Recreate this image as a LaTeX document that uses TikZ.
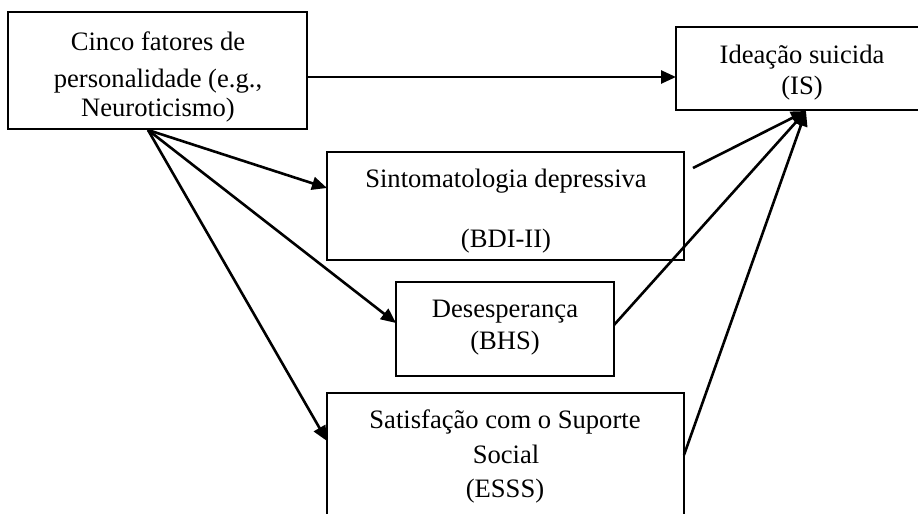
\documentclass[tikz,border=0pt]{standalone}
\usepackage{fontspec}
\setmainfont{Liberation Serif}
\usetikzlibrary{arrows.meta,fit}
\tikzset{
  box/.style={draw=black, line width=1pt, inner sep=0pt, rectangle},
  lbl/.style={anchor=base, inner sep=0pt, font=\fontsize{13.3}{16}\selectfont},
  arr/.style={line width=1.3pt, -{Triangle[length=7.5pt,width=6.5pt]}}
}
\begin{document}
\begin{tikzpicture}[x=0.5pt,y=-0.5pt]
\clip (0,0) rectangle (918,514);
\fill[white] (0,0) rectangle (918,514);
% boxes
\node[box, fit={(8,12) (307,129)}] (A) {};
\node[box, fit={(676,27) (940,110)}] (IS) {};
\node[box, fit={(327,152) (684,260)}] (BDI) {};
\node[box, fit={(396,282) (614,376)}] (BHS) {};
\node[box, fit={(327,393) (684,560)}] (ESSS) {};
% texts
\node[lbl] (a1) at (158,50) {Cinco fatores de};
\node[lbl] (a2) at (158,87) {personalidade (e.g.,};
\node[lbl] (a3) at (158,117) {Neuroticismo)};
\node[lbl] (is1) at (802,63) {Ideação suicida};
\node[lbl] (is2) at (802,95) {(IS)};
\node[lbl] (b1) at (506,187) {Sintomatologia depressiva};
\node[lbl] (b2) at (506,247) {(BDI-II)};
\node[lbl] (h1) at (505,317) {Desesperança};
\node[lbl] (h2) at (505,350) {(BHS)};
\node[lbl] (e1) at (505,428) {Satisfação com o Suporte};
\node[lbl] (e2) at (506,463) {Social};
\node[lbl] (e3) at (505,497) {(ESSS)};
% connector points
\coordinate (aOut) at (307,77);
\coordinate (isIn) at (676,77);
\coordinate (fan) at (148,130);
\coordinate (bdiIn) at (327,188);
\coordinate (bhsIn) at (396,323);
\coordinate (esssIn) at (327,441);
\coordinate (isTip) at (806,111);
\coordinate (bdiOut) at (693,168);
\coordinate (bhsOut) at (614,325);
\coordinate (esssOut) at (684,455);
% connectors
\draw[arr] (aOut) -- (isIn);
\draw[arr] (fan) -- (bdiIn);
\draw[arr] (fan) -- (bhsIn);
\draw[arr] (fan) -- (esssIn);
\draw[arr] (bdiOut) -- (isTip);
\draw[arr] (bhsOut) -- (isTip);
\draw[arr] (esssOut) -- (isTip);
\end{tikzpicture}
\end{document}
